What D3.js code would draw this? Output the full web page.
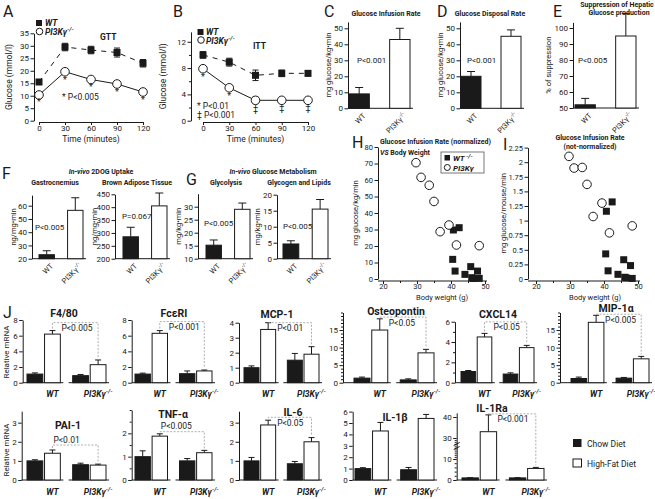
<!DOCTYPE html>
<html><head><meta charset="utf-8">
<script src="https://cdn.jsdelivr.net/npm/d3@7"></script>
<style>
body{margin:0;background:#fff}
svg{font-family:Roboto,"Liberation Sans",Arial,sans-serif}
</style></head><body>
<svg id="c" width="655" height="499"></svg>
<script>
// ================= DATA =================
const timePoints = [0, 30, 60, 90, 120];
const gttWT = [15.5, 29.5, 28.3, 27.3, 23.0];
const gttWTErr = [1.0, 1.5, 1.5, 1.8, 1.5];
const gttKO = [10.3, 19.6, 16.5, 14.7, 11.5];
const gttKOErr = [0.8, 1.0, 1.0, 1.0, 1.0];
const gttSig = ["*", "*", "*", "*", "*"];
const ittWT = [10.0, 8.9, 6.9, 7.2, 7.2];
const ittWTErr = [0.5, 0.6, 0.8, 0.5, 0.4];
const ittKO = [7.9, 5.0, 3.1, 3.1, 3.1];
const ittKOErr = [0.4, 0.4, 0.5, 0.4, 0.4];
const ittSig = ["*", "*", "‡", "‡", "‡"];

const genotypes = ["WT", "PI3K"];
const girValues = [9, 43], girErr = [4, 7];
const gdrValues = [20, 45], gdrErr = [3, 4];
const hgpValues = [52, 95], hgpErr = [4, 14];
const gastroValues = [23, 56.5], gastroErr = [3, 9.5];
const batValues = [285, 405], batErr = [37, 50];
const glycolysisValues = [15.2, 29], glycolysisErr = [2, 2.4];
const glycogenValues = [4.6, 15.5], glycogenErr = [1.0, 3.0];

const koWeight = [29.7, 31.2, 33.6, 35.0, 36.8, 39.4, 41.6, 48.3];
const koRateNorm = [70.5, 61.6, 56.8, 47.0, 28.7, 32.7, 20.6, 20.2];
const koRateAbs = [2.10, 1.90, 1.91, 1.62, 1.07, 1.30, 0.79, 0.91];
const wtWeight = [40.7, 42.4, 40.5, 41.2, 44.1, 45.8, 46.1, 46.5, 47.8, 48.3];
const wtRateNorm = [29.7, 31.1, 11.9, 4.8, 2.8, 7.5, 0.8, 0.3, 4.8, 0.4];
const wtRateAbs = [1.16, 1.32, 0.43, 0.14, 0.08, 0.33, 0.03, 0.02, 0.23, 0.01];

const diets = ["Chow", "HFD"];
const genes = ["F4/80", "FcεRI", "MCP-1", "Osteopontin", "CXCL14", "MIP-1α", "PAI-1", "TNF-α", "IL-6", "IL-1β", "IL-1Ra"];
const mrnaWTChow    = [1.1, 1.1, 1.0, 1.3, 1.1, 1.2, 1.0, 1.0, 1.0, 1.0, 1.0];
const mrnaWTChowErr = [0.15, 0.12, 0.12, 0.3, 0.1, 0.4, 0.06, 0.25, 0.18, 0.08, 0.1];
const mrnaWTHFD     = [6.2, 6.3, 3.55, 15.0, 4.5, 17.2, 1.4, 1.88, 2.88, 4.3, 33];
const mrnaWTHFDErr  = [0.45, 0.35, 0.45, 3.2, 0.35, 2.0, 0.17, 0.1, 0.25, 0.75, 8];
const mrnaKOChow    = [0.9, 1.15, 1.5, 0.8, 0.85, 1.3, 0.8, 0.82, 0.85, 0.9, 1.0];
const mrnaKOChowErr = [0.15, 0.35, 0.45, 0.3, 0.12, 0.2, 0.08, 0.1, 0.12, 0.2, 0.1];
const mrnaKOHFD     = [2.3, 1.5, 1.9, 8.5, 3.45, 6.8, 0.78, 1.17, 2.0, 5.4, 5.5];
const mrnaKOHFDErr  = [0.6, 0.12, 0.5, 1.0, 0.22, 0.7, 0.05, 0.1, 0.22, 0.35, 0.5];
const mrnaP = ["P<0.005", "P<0.001", "P<0.01", "P<0.05", "P<0.05", "P<0.005", "P<0.01", "P<0.005", "P<0.05", "", "P<0.001"];
const mrnaBracket = [7.66, 7.8, 4.0, 18.7, 5.98, 19.5, 1.83, 2.07, 3.28, null, 41.5];

// ================= HELPERS =================
const FONT = 'Roboto,"Liberation Sans",Arial,sans-serif';
const svg = d3.select("#c");
const INK = "#1a1a1a";

function txt(x, y, s, o = {}) {
  const t = svg.append("text").attr("x", x).attr("y", y)
    .attr("font-size", o.size || 8).attr("font-weight", o.weight || "normal")
    .attr("font-style", o.style || "normal").attr("text-anchor", o.anchor || "start")
    .attr("fill", o.fill || INK);
  if (o.rot) t.attr("transform", `rotate(${o.rot},${x},${y})`);
  if (s !== null) t.text(s);
  return t;
}
function addKO(t, size) {
  t.append("tspan").text("PI3K");
  t.append("tspan").text("γ");
  t.append("tspan").attr("dy", -size * 0.45).attr("font-size", size * 0.72).text("-/-");
}
function yAxis(y, x, ticks, labels, fs = 8, minorLen = 2) {
  const g = svg.append("g").attr("transform", `translate(${x},0)`)
    .call(d3.axisLeft(y).tickValues(ticks).tickSize(3.5).tickSizeOuter(0).tickPadding(1.5)
      .tickFormat(d => labels.includes(d) ? String(d) : ""));
  g.attr("font-family", FONT).attr("font-size", fs);
  g.select("path.domain").attr("stroke", INK).attr("stroke-width", 1);
  g.selectAll(".tick line").attr("stroke", INK);
  g.selectAll(".tick text").attr("fill", INK);
  g.selectAll(".tick").filter(d => !labels.includes(d)).select("line").attr("x2", -minorLen);
  return g;
}
function hline(x1, x2, y, w = 1) {
  svg.append("line").attr("x1", x1).attr("x2", x2).attr("y1", y).attr("y2", y).attr("stroke", INK).attr("stroke-width", w);
}
function letter(x, y, s) { txt(x, y, s, { size: 16 }); }

// ================= A & B line panels =================
function linePanel(c) {
  const x = d3.scaleLinear().domain([0, 120]).range([c.x0, c.x1]);
  const y = d3.scaleLinear().domain([0, c.ymax]).range([c.base, c.top]);
  yAxis(y, c.ax, c.ticks, c.labels, 8);
  const gx = svg.append("g").attr("transform", `translate(0,${c.xAxisY})`)
    .call(d3.axisBottom(x).tickValues(timePoints).tickSize(3).tickSizeOuter(0).tickPadding(0.5));
  gx.attr("font-family", FONT).attr("font-size", 8);
  gx.select("path.domain").attr("stroke", INK);
  gx.selectAll(".tick line").attr("stroke", INK);
  gx.selectAll(".tick text").attr("fill", INK);
  txt((c.x0 + c.x1) / 2, c.xAxisY + 20, "Time (minutes)", { size: 8.5, anchor: "middle" });
  txt(c.ylabX, (c.base + c.top) / 2, "Glucose (mmol/l)", { size: 8.5, anchor: "middle", rot: -90 });

  const line = d3.line().x((d, i) => x(timePoints[i])).y(d => y(d));
  function errs(vals, es) {
    vals.forEach((v, i) => {
      const cx = x(timePoints[i]);
      svg.append("line").attr("x1", cx).attr("x2", cx).attr("y1", y(v - es[i])).attr("y2", y(v + es[i])).attr("stroke", INK);
      [v - es[i], v + es[i]].forEach(e => svg.append("line").attr("x1", cx - 3).attr("x2", cx + 3).attr("y1", y(e)).attr("y2", y(e)).attr("stroke", INK));
    });
  }
  svg.append("path").attr("d", line(c.wt)).attr("fill", "none").attr("stroke", INK).attr("stroke-width", 1).attr("stroke-dasharray", "5,5");
  svg.append("path").attr("d", line(c.ko)).attr("fill", "none").attr("stroke", INK).attr("stroke-width", 1);
  errs(c.wt, c.wtErr); errs(c.ko, c.koErr);
  c.wt.forEach((v, i) => svg.append("rect").attr("x", x(timePoints[i]) - 3.5).attr("y", y(v) - 3.5).attr("width", 7).attr("height", 7).attr("fill", INK));
  c.ko.forEach((v, i) => svg.append("circle").attr("cx", x(timePoints[i])).attr("cy", y(v)).attr("r", 4.3).attr("fill", "#fff").attr("stroke", INK).attr("stroke-width", 1));
  c.ko.forEach((v, i) => txt(x(timePoints[i]), y(v - c.koErr[i]) + 8.5, c.sig[i], { size: 9, anchor: "middle" }));
}

letter(3, 17, "A");
linePanel({ x0: 39, x1: 143, base: 120.7, top: 33.3, ymax: 35, ax: 34, xAxisY: 122,
  ticks: d3.range(0, 36, 5), labels: d3.range(0, 36, 5), ylabX: 12,
  wt: gttWT, wtErr: gttWTErr, ko: gttKO, koErr: gttKOErr, sig: gttSig });
svg.append("rect").attr("x", 36).attr("y", 20).attr("width", 6).attr("height", 6).attr("fill", INK);
txt(45, 26, "WT", { size: 8.5, weight: "bold", style: "italic" });
svg.append("circle").attr("cx", 39.5).attr("cy", 31.5).attr("r", 3.3).attr("fill", "#fff").attr("stroke", INK);
addKO(txt(45, 35, null, { size: 8.5, weight: "bold", style: "italic" }), 8.5);
txt(100, 40, "GTT", { size: 8.5, weight: "bold" });
txt(62, 100, "* P<0.005", { size: 8.5 });

letter(173, 17, "B");
linePanel({ x0: 203, x1: 308, base: 120.7, top: 31.9, ymax: 13.5, ax: 191, xAxisY: 122,
  ticks: d3.range(0, 13, 2), labels: [0, 4, 8, 12], ylabX: 166,
  wt: ittWT, wtErr: ittWTErr, ko: ittKO, koErr: ittKOErr, sig: ittSig });
svg.append("rect").attr("x", 197.5).attr("y", 29).attr("width", 6).attr("height", 6).attr("fill", INK);
txt(206, 35, "WT", { size: 8.5, weight: "bold", style: "italic" });
svg.append("circle").attr("cx", 201).attr("cy", 40).attr("r", 3.3).attr("fill", "#fff").attr("stroke", INK);
addKO(txt(206, 43.5, null, { size: 8.5, weight: "bold", style: "italic" }), 8.5);
txt(253, 49, "ITT", { size: 8.5, weight: "bold" });
txt(197, 109, "* P<0.01", { size: 8.5 });
txt(197, 118, "‡ P<0.001", { size: 8.5 });

// ================= Bar panels C-G =================
function barPanel(c) {
  const y = d3.scaleLinear().domain(c.dom).range([c.base, c.top]);
  const x = d3.scaleBand().domain(genotypes).range([c.x0, c.x1]).paddingInner(c.pad);
  yAxis(y, c.ax, c.ticks, c.ticks, 8);
  hline(c.ax, c.x1 + 3, c.base);
  genotypes.forEach((g, i) => {
    const v = c.values[i], e = c.errs[i];
    const cx = x(g) + x.bandwidth() / 2;
    svg.append("line").attr("x1", cx).attr("x2", cx).attr("y1", y(v)).attr("y2", y(v + e)).attr("stroke", INK);
    svg.append("line").attr("x1", cx - 4).attr("x2", cx + 4).attr("y1", y(v + e)).attr("y2", y(v + e)).attr("stroke", INK);
    svg.append("rect").attr("x", x(g)).attr("y", y(v)).attr("width", x.bandwidth()).attr("height", y(c.dom[0]) - y(v))
      .attr("fill", i === 0 ? INK : "#fff").attr("stroke", INK).attr("stroke-width", 1);
    const lx = cx + 7, ly = c.base + 8;
    const t = txt(lx, ly, null, { size: 7.5, anchor: "end", rot: -45 });
    if (i === 0) t.text("WT"); else addKO(t, 7.5);
  });
  if (c.p) txt(c.px, c.py, c.p, { size: 8 });
  txt(c.ylx, (c.base + c.top) / 2, c.ylab, { size: 7.5, anchor: "middle", rot: -90 });
}

letter(324, 17, "C");
txt(386, 16, "Glucose Infusion Rate", { size: 7, weight: "bold", anchor: "middle" });
barPanel({ dom: [0, 54], base: 108.3, top: 21.9, ax: 348, x0: 349, x1: 410, pad: 0.5, ticks: d3.range(0, 51, 10),
  values: girValues, errs: girErr, p: "P<0.001", px: 357, py: 63, ylab: "mg glucose/kg•min", ylx: 331 });
letter(437, 17, "D");
txt(490, 16, "Glucose Disposal Rate", { size: 7, weight: "bold", anchor: "middle" });
barPanel({ dom: [0, 54], base: 108.3, top: 21.9, ax: 460, x0: 461, x1: 521, pad: 0.5, ticks: d3.range(0, 51, 10),
  values: gdrValues, errs: gdrErr, p: "P<0.001", px: 467, py: 63, ylab: "mg glucose/kg•min", ylx: 443 });
letter(553, 17, "E");
txt(617, 7, "Suppression of Hepatic", { size: 7, weight: "bold", anchor: "middle" });
txt(619, 15, "Glucose production", { size: 7, weight: "bold", anchor: "middle" });
barPanel({ dom: [50, 103.5], base: 108, top: 22.4, ax: 573, x0: 575, x1: 636, pad: 0.5, ticks: d3.range(50, 101, 10),
  values: hgpValues, errs: hgpErr, p: "P<0.005", px: 578, py: 63, ylab: "% of suppression", ylx: 551 });

letter(2, 179, "F");
const ivT = txt(101, 174, null, { size: 7, weight: "bold", anchor: "middle" });
ivT.append("tspan").attr("font-style", "italic").text("In-vivo");
ivT.append("tspan").text(" 2DOG Uptake");
txt(55, 185, "Gastrocnemius", { size: 7, weight: "bold", anchor: "middle" });
txt(137, 185, "Brown Adipose Tissue", { size: 7, weight: "bold", anchor: "middle" });
barPanel({ dom: [20, 68], base: 258.7, top: 195.1, ax: 32, x0: 39, x1: 83, pad: 0.46, ticks: d3.range(20, 61, 10),
  values: gastroValues, errs: gastroErr, p: "P<0.005", px: 35, py: 230, ylab: "ng/mg•min", ylx: 16 });
barPanel({ dom: [200, 450], base: 258.7, top: 194.3, ax: 115, x0: 123, x1: 167, pad: 0.46, ticks: d3.range(200, 451, 50),
  values: batValues, errs: batErr, p: "P=0.067", px: 122, py: 219, ylab: "ng/mg•min", ylx: 97 });

letter(186, 185, "G");
const ivG = txt(273, 174, null, { size: 7, weight: "bold", anchor: "middle" });
ivG.append("tspan").attr("font-style", "italic").text("In-vivo");
ivG.append("tspan").text(" Glucose Metabolism");
txt(226, 185, "Glycolysis", { size: 7, weight: "bold", anchor: "middle" });
txt(299, 185, "Glycogen and Lipids", { size: 7, weight: "bold", anchor: "middle" });
barPanel({ dom: [10, 35], base: 258.7, top: 193.7, ax: 198, x0: 206, x1: 250, pad: 0.46, ticks: d3.range(10, 31, 5),
  values: glycolysisValues, errs: glycolysisErr, p: "P<0.005", px: 204, py: 226, ylab: "mg/kg•min", ylx: 181 });
barPanel({ dom: [0, 20], base: 258.7, top: 194.7, ax: 277, x0: 283, x1: 328, pad: 0.46, ticks: d3.range(0, 21, 5),
  values: glycogenValues, errs: glycogenErr, p: "P<0.005", px: 283, py: 229, ylab: "mg/kg•min", ylx: 260 });

// ================= H & I scatter =================
function scatterPanel(c) {
  const x = d3.scaleLinear().domain([20, 50]).range([c.x0, c.x1]);
  const y = d3.scaleLinear().domain([0, c.ymax]).range([c.base, c.top]);
  yAxis(y, c.ax, c.ticks, c.ticks, 7.5);
  const gx = svg.append("g").attr("transform", `translate(0,${c.base + 2})`)
    .call(d3.axisBottom(x).tickValues([20, 25, 30, 35, 40, 45, 50]).tickSize(3).tickSizeOuter(0).tickPadding(0)
      .tickFormat(d => d % 10 === 0 ? d : ""));
  gx.attr("font-family", FONT).attr("font-size", 7.5);
  gx.select("path.domain").attr("stroke", INK).attr("d", `M${c.ax},0H${c.x1 + 2}`);
  gx.selectAll(".tick line").attr("stroke", INK);
  gx.selectAll(".tick").filter(d => d % 10 !== 0).select("line").attr("y2", 2);
  gx.selectAll(".tick text").attr("fill", INK);
  txt((c.x0 + c.x1) / 2 + 8, c.base + 20.5, "Body weight (g)", { size: 7.5, anchor: "middle" });
  txt(c.ylx, (c.base + c.top) / 2, c.ylab, { size: 7.5, anchor: "middle", rot: -90 });
  c.wtX.forEach((w, i) => svg.append("rect").attr("x", x(w) - 3.5).attr("y", y(c.wtY[i]) - 3.5).attr("width", 7).attr("height", 7).attr("fill", INK));
  c.koX.forEach((w, i) => svg.append("circle").attr("cx", x(w)).attr("cy", y(c.koY[i])).attr("r", 4.3).attr("fill", "#fff").attr("stroke", INK));
}
letter(352, 148, "H");
txt(380, 144, "Glucose Infusion Rate (normalized)", { size: 7, weight: "bold" });
const vsT = txt(380, 155, null, { size: 7, weight: "bold" });
vsT.append("tspan").attr("font-style", "italic").text("VS");
vsT.append("tspan").text(" Body Weight");
scatterPanel({ x0: 383, x1: 485, base: 279, top: 147, ymax: 80, ax: 378, ticks: d3.range(0, 81, 10),
  wtX: wtWeight, wtY: wtRateNorm, koX: koWeight, koY: koRateNorm, ylab: "mg glucose/kg/min", ylx: 358 });
svg.append("rect").attr("x", 441).attr("y", 152).attr("width", 43).attr("height", 21).attr("fill", "#fff").attr("stroke", "#555").attr("stroke-width", 0.8);
svg.append("rect").attr("x", 444.5).attr("y", 155).attr("width", 5.5).attr("height", 5.5).attr("fill", INK);
txt(453, 161, "WT", { size: 8, weight: "bold", style: "italic" });
txt(466, 158, "-/-", { size: 6, weight: "bold", style: "italic" });
svg.append("circle").attr("cx", 447.3).attr("cy", 167.5).attr("r", 3).attr("fill", "#fff").attr("stroke", INK);
const lgK = txt(453, 171, null, { size: 8, weight: "bold", style: "italic" });
lgK.append("tspan").text("PI3K"); lgK.append("tspan").text("γ");

letter(503, 150, "I");
txt(590, 140, "Glucose Infusion Rate", { size: 7, weight: "bold", anchor: "middle" });
txt(590, 149, "(not-normalized)", { size: 7, weight: "bold", anchor: "middle" });
scatterPanel({ x0: 536, x1: 638, base: 279, top: 147.6, ymax: 2.25, ax: 528, ticks: d3.range(0, 2.26, 0.25),
  wtX: wtWeight, wtY: wtRateAbs, koX: koWeight, koY: koRateAbs, ylab: "mg glucose/mouse/min", ylx: 506 });

// ================= J mRNA panels =================
letter(3, 318, "J");
const jLayout = [
  { ax: 22.7, x0: 27, x1: 106, dom: [0, 8], rng: [382.7, 320], ticks: [0, 2, 4, 6, 8], labels: [0, 2, 4, 6, 8], pPos: "below", tx: 64, ty: 317 },
  { ax: 131.7, x0: 135, x1: 212, dom: [0, 8], rng: [382.7, 320], ticks: [0, 2, 4, 6, 8], labels: [0, 2, 4, 6, 8], pPos: "below", tx: 174, ty: 317 },
  { ax: 239, x0: 244, x1: 319, dom: [0, 4], rng: [382.7, 322.7], ticks: [0, 1, 2, 3, 4], labels: [0, 1, 2, 3, 4], pPos: "below", tx: 277, ty: 318 },
  { ax: 343, x0: 354, x1: 434, dom: [0, 20], rng: [382.7, 312.5], ticks: d3.range(0, 21), labels: [0, 5, 10, 15], pPos: "below", tx: 396, ty: 315 },
  { ax: 455, x0: 461, x1: 534, dom: [0, 6], rng: [382.7, 321.7], ticks: d3.range(0, 7), labels: [0, 2, 4, 6], pPos: "below", tx: 498, ty: 318 },
  { ax: 560, x0: 571, x1: 649, dom: [0, 20], rng: [382.7, 312.5], ticks: d3.range(0, 21), labels: [0, 5, 10, 15], pPos: "below", tx: 616, ty: 312 },
  { ax: 21.7, x0: 27, x1: 106, dom: [0, 3.6], rng: [480, 411.2], ticks: [0, 1, 2, 3], labels: [0, 1, 2, 3], pPos: "above", tx: 68, ty: 429 },
  { ax: 131.7, x0: 135, x1: 212, dom: [0, 3], rng: [480, 410], ticks: d3.range(0, 3.01, 0.5), labels: [0, 1, 2], pPos: "above", tx: 173, ty: 418 },
  { ax: 239, x0: 244, x1: 319, dom: [0, 3.6], rng: [480, 411.2], ticks: [0, 1, 2, 3], labels: [0, 1, 2, 3], pPos: "below", tx: 293, ty: 416 },
  { ax: 352.7, x0: 355, x1: 434, dom: [0, 6], rng: [480, 411.6], ticks: d3.range(0, 7), labels: d3.range(0, 7), pPos: "below", tx: 395, ty: 421 },
  { ax: 456.7, x0: 462, x1: 544, dom: [0, 10, 30, 42], rng: [480, 459, 438, 412.8], ticks: [0, 2, 4, 6, 8, 10, 12, 14, 16, 18, 20, 22, 24, 26, 28, 30, 40], labels: [0, 10, 30, 40], pPos: "below", tx: 492, ty: 412, brk: true }
];

genes.forEach((gene, i) => {
  const L = jLayout[i];
  const y = d3.scaleLinear().domain(L.dom).range(L.rng);
  const base = L.rng[0];
  const gx = d3.scaleBand().domain(genotypes).range([L.x0, L.x1]).paddingInner(0.27);
  const dx = d3.scaleBand().domain(diets).range([0, gx.bandwidth()]).paddingInner(0.1);
  yAxis(y, L.ax, L.ticks, L.labels, 8, 2);
  const recs = [
    { g: "WT", d: "Chow", v: mrnaWTChow[i], e: mrnaWTChowErr[i] },
    { g: "WT", d: "HFD", v: mrnaWTHFD[i], e: mrnaWTHFDErr[i] },
    { g: "PI3K", d: "Chow", v: mrnaKOChow[i], e: mrnaKOChowErr[i] },
    { g: "PI3K", d: "HFD", v: mrnaKOHFD[i], e: mrnaKOHFDErr[i] }
  ];
  genotypes.forEach((g, k) => hline(k === 0 ? L.ax : gx(g) - 4, gx(g) + gx.bandwidth() + 3, base));
  recs.forEach(r => {
    const bx = gx(r.g) + dx(r.d), bw = dx.bandwidth(), cx = bx + bw / 2;
    svg.append("line").attr("x1", cx).attr("x2", cx).attr("y1", y(r.v)).attr("y2", y(r.v + r.e)).attr("stroke", INK);
    svg.append("line").attr("x1", cx - 3).attr("x2", cx + 3).attr("y1", y(r.v + r.e)).attr("y2", y(r.v + r.e)).attr("stroke", INK);
    svg.append("rect").attr("x", bx).attr("y", y(r.v)).attr("width", bw).attr("height", base - y(r.v))
      .attr("fill", r.d === "Chow" ? INK : "#fff").attr("stroke", INK).attr("stroke-width", 1);
  });
  genotypes.forEach((g, k) => {
    const cx = gx(g) + dx("HFD") + dx.bandwidth() / 2;
    const t = txt(cx, base + 14.5, null, { size: 8.5, weight: "bold", style: "italic", anchor: "middle" });
    if (k === 0) t.text("WT"); else addKO(t, 8.5);
  });
  if (mrnaBracket[i] !== null) {
    const by = y(mrnaBracket[i]);
    const lx = gx("WT") + dx("HFD") + dx.bandwidth() / 2;
    const rx = gx("PI3K") + dx("HFD") + dx.bandwidth() / 2;
    const ly = y(mrnaWTHFD[i] + mrnaWTHFDErr[i]) - 2;
    const ry = y(mrnaKOHFD[i] + mrnaKOHFDErr[i]) - 2;
    const pts = [];
    if (ly > by) pts.push([lx, ly]);
    pts.push([lx, by], [rx, by], [rx, ry]);
    svg.append("path").attr("d", d3.line()(pts)).attr("fill", "none").attr("stroke", "#999").attr("stroke-width", 0.8).attr("stroke-dasharray", "2,1.5");
    if (L.pPos === "below") txt(lx + 9, by + 8.5, mrnaP[i], { size: 8.5 });
    else txt(lx + 1, by - 2.5, mrnaP[i], { size: 8.5 });
  }
  if (L.brk) {
    [444, 448].forEach(yy => svg.append("line").attr("x1", L.ax - 3).attr("x2", L.ax + 3).attr("y1", yy + 1.5).attr("y2", yy - 1.5).attr("stroke", INK));
  }
  txt(L.tx, L.ty, gene, { size: 10.5, weight: "bold", anchor: "middle" });
});
txt(9, 352, "Relative mRNA", { size: 8, anchor: "middle", rot: -90 });
txt(9, 450, "Relative mRNA", { size: 8, anchor: "middle", rot: -90 });

svg.append("rect").attr("x", 573).attr("y", 439).attr("width", 8.5).attr("height", 8).attr("fill", INK);
txt(587, 446.5, "Chow Diet", { size: 8.5 });
svg.append("rect").attr("x", 573).attr("y", 459).attr("width", 8.5).attr("height", 8).attr("fill", "#fff").attr("stroke", INK);
txt(587, 466.5, "High-Fat Diet", { size: 8.5 });
</script>
</body></html>
